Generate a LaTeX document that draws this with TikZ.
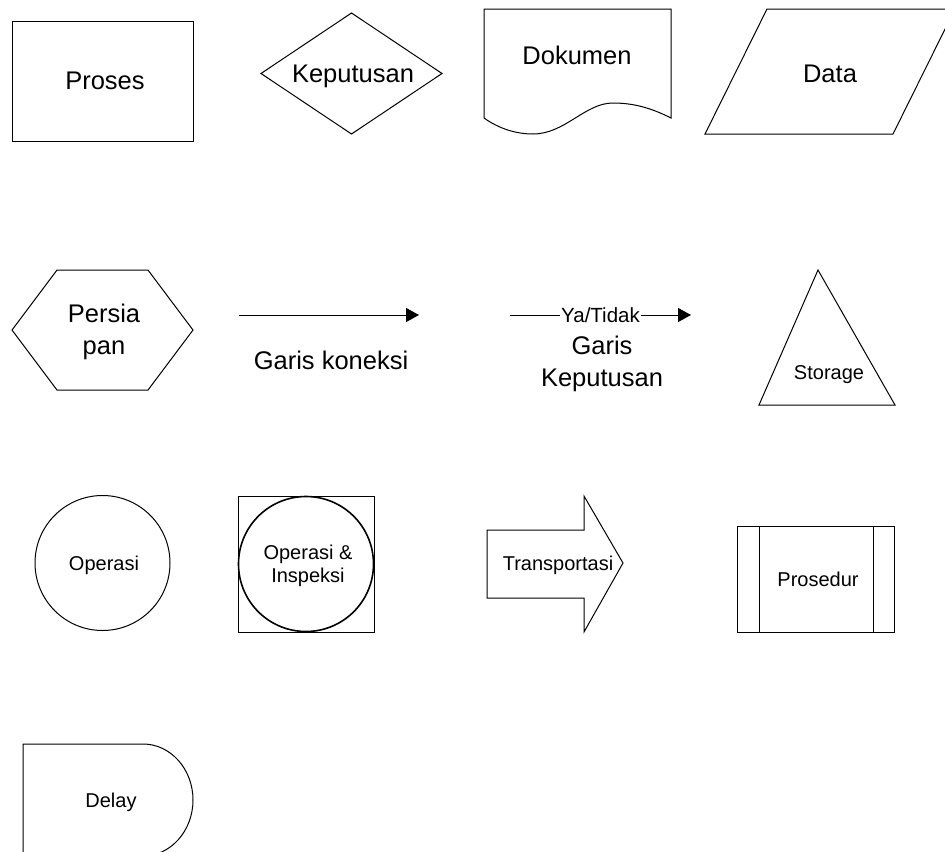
\documentclass[tikz,border=0pt]{standalone}
\usepackage{fontspec}
\setmainfont{Liberation Sans}
\usetikzlibrary{arrows.meta}
\begin{document}
\begin{tikzpicture}[x=1bp,y=-1bp,
  outline/.style={draw=black, line width=1bp, line join=miter},
  big/.style={font=\fontsize{25.5bp}{32bp}\selectfont, align=center, inner sep=0pt, anchor=base},
  small/.style={font=\fontsize{20bp}{23bp}\selectfont, align=center, inner sep=0pt, anchor=base},
  link/.style={draw=black, line width=1bp, -{Triangle[length=13bp, width=14bp]}}]
\useasboundingbox (0,0) rectangle (945,852);
\clip (0,0) rectangle (945,852);

% Proses
\draw[outline] (12,21) rectangle (193,141);
\node[big] (proses) at (105,89) {Proses};

% Keputusan
\draw[outline] (261,73.5) -- (351.5,13) -- (442,73.5) -- (351.5,134) -- cycle;
\node[big] (keputusan) at (353,82) {Keputusan};

% Dokumen
\draw[outline] (484,118) -- (484,9) -- (671,9) -- (671,118)
  .. controls (655,110) and (637,103) .. (613,103)
  .. controls (585,103) and (565,134) .. (533,134)
  .. controls (515,134) and (498,128) .. (484,118);
\node[big] (dokumen) at (577,64) {Dokumen};

% Data
\draw[outline] (767,9) -- (955,9) -- (893,134) -- (705,134) -- cycle;
\node[big] (data) at (830,82) {Data};

% Persiapan (baseline of the last line)
\draw[outline] (57,270) -- (148,270) -- (193,330) -- (148,390) -- (57,390) -- (12,330) -- cycle;
\node[big] (persiapan) at (104,354) {Persia\\pan};

% Garis koneksi
\coordinate (gk1) at (239,315);
\coordinate (gk2) at (419,315);
\draw[link] (gk1) -- (gk2);
\node[big] (gkl) at (331,369) {Garis koneksi};

% Garis Keputusan
\coordinate (gp1) at (510,315);
\coordinate (gp2) at (691,315);
\draw[link] (gp1) -- node[fill=white, font=\fontsize{20.5bp}{24bp}\selectfont, inner ysep=0pt, inner xsep=1bp] (yt) {Ya/Tidak} (gp2);
\node[big] (gpl) at (602,386) {Garis\\Keputusan};

% Storage
\draw[outline] (818,270) -- (895,405) -- (759,405) -- cycle;
\node[small] (storage) at (829,379) {Storage};

% Operasi
\draw[outline] (102.5,563) circle[radius=67.5];
\node[small] (operasi) at (104,570) {Operasi};

% Operasi & Inspeksi
\draw[outline] (238,496) rectangle (374,632);
\draw[outline, line width=1.6bp] (306,564) circle[radius=67.5];
\node[small] (opins) at (308,582) {Operasi \&\\Inspeksi};

% Transportasi
\draw[outline] (487,530) -- (584,530) -- (584,496) -- (623,563) -- (584,632) -- (584,598) -- (487,598) -- cycle;
\node[small] (transport) at (558,570) {Transportasi};

% Prosedur
\draw[outline] (737,526) rectangle (894,632);
\draw[outline] (759,526) -- (759,632);
\draw[outline] (873,526) -- (873,632);
\node[small] (prosedur) at (818,586) {Prosedur};

% Delay
\draw[outline] (23,870) -- (23,744) -- (143,744) arc[start angle=-90, end angle=90, x radius=50, y radius=56];
\node[small] (delay) at (111,807) {Delay};
\end{tikzpicture}
\end{document}
